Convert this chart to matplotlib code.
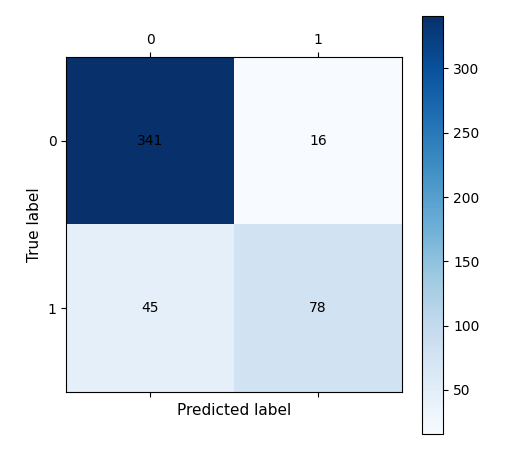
import matplotlib.pyplot as plt
import numpy as np

class_labels = ["0", "1"]
confusion = np.array([[341, 16],
                      [45, 78]])
cbar_ticks = [50, 100, 150, 200, 250, 300]

W, H = 516, 457
fig = plt.figure(figsize=(W / 100, H / 100), dpi=100)
ax = fig.add_axes([66.3 / W, (H - 392.3) / H, 335.4 / W, 335.6 / H])
cax = fig.add_axes([421.7 / W, (H - 433.7) / H, 21.6 / W, 418.0 / H])

image = ax.matshow(confusion, cmap="Blues")
for i in range(confusion.shape[0]):
    for j in range(confusion.shape[1]):
        ax.text(j, i, str(confusion[i, j]), ha="center", va="center", color="black")

ax.set_xticks(range(len(class_labels)))
ax.set_yticks(range(len(class_labels)))
ax.set_xticklabels(class_labels)
ax.set_yticklabels(class_labels)
ax.set_xlabel("Predicted label", fontsize=11)
ax.set_ylabel("True label", fontsize=11)

cbar = fig.colorbar(image, cax=cax)
cbar.set_ticks(cbar_ticks)

fig.savefig("out.png", dpi=100)
